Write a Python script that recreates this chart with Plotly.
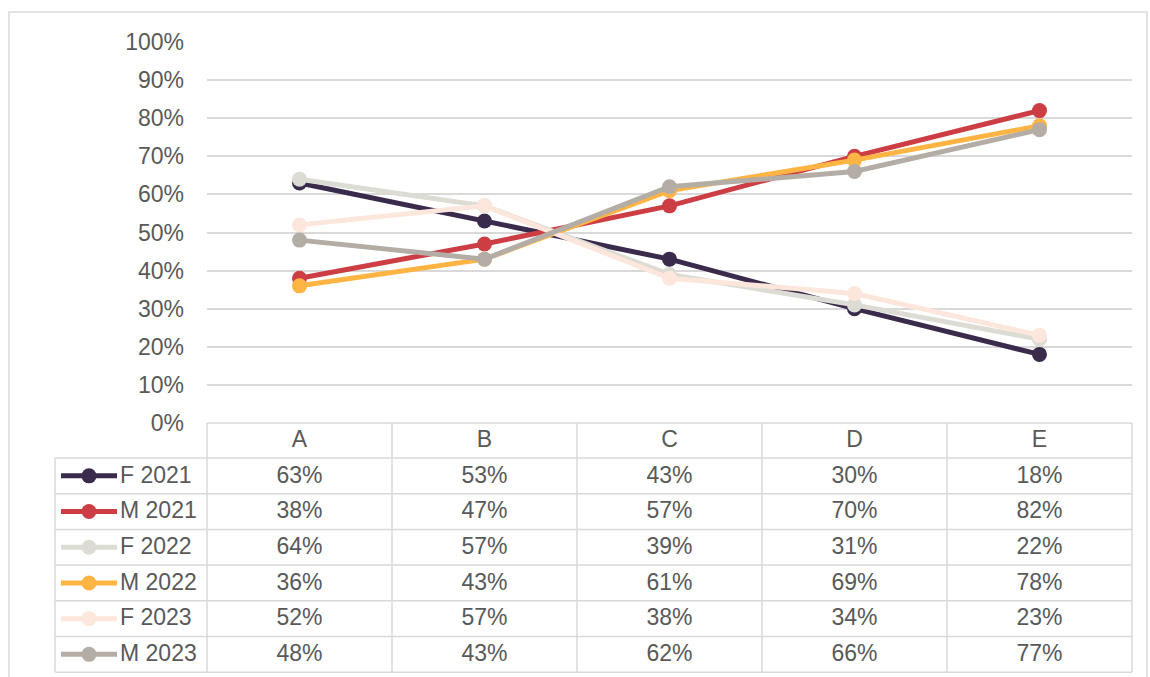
import plotly.graph_objects as go

# Data
categories = ["A", "B", "C", "D", "E"]
series_names = ["F 2021", "M 2021", "F 2022", "M 2022", "F 2023", "M 2023"]
f_2021 = [63, 53, 43, 30, 18]
m_2021 = [38, 47, 57, 70, 82]
f_2022 = [64, 57, 39, 31, 22]
m_2022 = [36, 43, 61, 69, 78]
f_2023 = [52, 57, 38, 34, 23]
m_2023 = [48, 43, 62, 66, 77]
y_ticks = [0, 10, 20, 30, 40, 50, 60, 70, 80, 90, 100]

series_values = [f_2021, m_2021, f_2022, m_2022, f_2023, m_2023]
colors = ["#3A2A4B", "#CC3D44", "#DCDCD5", "#FFB444", "#FDE6DB", "#B4ADA6"]

W, H = 1150, 677
TEXT = "#595959"
GRID = "#D9D9D9"
FONT = "Liberation Sans, Arial, sans-serif"
FS = 23

# Layout geometry (pixels)
plot_l, plot_r = 207, 1132
plot_t, plot_b = 42, 423
key_l = 55
row_h = 35.7
header_b = plot_b + 35
col_w = (plot_r - plot_l) / len(categories)

fig = go.Figure()

# Line series on the main axes
for name, vals, c in zip(series_names, series_values, colors):
    fig.add_trace(go.Scatter(
        x=categories, y=[v / 100 for v in vals], name=name,
        mode="lines+markers",
        line=dict(color=c, width=5),
        marker=dict(color=c, size=15),
        xaxis="x", yaxis="y", showlegend=False, hoverinfo="skip",
    ))

# Data table on a pixel-space overlay
shapes = []
line_style = dict(color=GRID, width=1.5)
# header row top and column separators
shapes.append(dict(type="line", xref="x2", yref="y2", x0=plot_l, x1=plot_r,
                   y0=plot_b, y1=plot_b, line=line_style))
table_b = header_b + row_h * len(series_names)
for i in range(len(categories) + 1):
    x = plot_l + i * col_w
    shapes.append(dict(type="line", xref="x2", yref="y2", x0=x, x1=x,
                       y0=plot_b, y1=table_b, line=line_style))
for j in range(len(series_names) + 1):
    y = header_b + j * row_h
    shapes.append(dict(type="line", xref="x2", yref="y2", x0=key_l, x1=plot_r,
                       y0=y, y1=y, line=line_style))
shapes.append(dict(type="line", xref="x2", yref="y2", x0=key_l, x1=key_l,
                   y0=header_b, y1=table_b, line=line_style))
# outer chart border
shapes.append(dict(type="rect", xref="x2", yref="y2", x0=9, x1=1147,
                   y0=12, y1=700, line=dict(color=GRID, width=1.5)))

# header labels
fig.add_trace(go.Scatter(
    x=[plot_l + (i + 0.5) * col_w for i in range(len(categories))],
    y=[(plot_b + header_b) / 2 + 1] * len(categories),
    text=categories, mode="text", textfont=dict(size=FS, color=TEXT, family=FONT),
    xaxis="x2", yaxis="y2", showlegend=False, hoverinfo="skip",
))

for j, (name, vals, c) in enumerate(zip(series_names, series_values, colors)):
    yc = header_b + (j + 0.5) * row_h
    # legend key: short line with a dot in the middle
    fig.add_trace(go.Scatter(
        x=[61, 117], y=[yc] * 2, mode="lines",
        line=dict(color=c, width=5),
        xaxis="x2", yaxis="y2", showlegend=False, hoverinfo="skip",
    ))
    fig.add_trace(go.Scatter(
        x=[89], y=[yc], mode="markers",
        marker=dict(color=c, size=15, opacity=1, line=dict(width=0)),
        xaxis="x2", yaxis="y2", showlegend=False, hoverinfo="skip",
    ))
    fig.add_trace(go.Scatter(
        x=[120], y=[yc + 1], text=[name], mode="text", textposition="middle right",
        textfont=dict(size=FS, color=TEXT, family=FONT),
        xaxis="x2", yaxis="y2", showlegend=False, hoverinfo="skip",
    ))
    fig.add_trace(go.Scatter(
        x=[plot_l + (i + 0.5) * col_w for i in range(len(categories))],
        y=[yc + 1] * len(categories), text=[f"{v}%" for v in vals], mode="text",
        textfont=dict(size=FS, color=TEXT, family=FONT),
        xaxis="x2", yaxis="y2", showlegend=False, hoverinfo="skip",
    ))

fig.update_layout(
    width=W, height=H,
    margin=dict(l=0, r=0, t=0, b=0, pad=0),
    paper_bgcolor="white", plot_bgcolor="rgba(0,0,0,0)",
    font=dict(family=FONT, size=FS, color=TEXT),
    shapes=shapes,
    xaxis=dict(domain=[plot_l / W, plot_r / W], range=[-0.5, len(categories) - 0.5],
               showgrid=False, showticklabels=False, zeroline=False, showline=False,
               fixedrange=True, automargin=False),
    yaxis=dict(domain=[1 - plot_b / H, 1 - plot_t / H], range=[0, 1],
               tickvals=[t / 100 for t in y_ticks],
               ticktext=[f"{t}%" for t in y_ticks],
               showgrid=True, gridcolor=GRID, gridwidth=1.5, zeroline=False,
               showline=False, ticklabelstandoff=22, automargin=False,
               tickfont=dict(size=FS, color=TEXT, family=FONT), fixedrange=True),
    xaxis2=dict(domain=[0, 1], range=[0, W], visible=False, anchor="y2",
                fixedrange=True, automargin=False),
    yaxis2=dict(domain=[0, 1], range=[H, 0], visible=False, anchor="x2",
                fixedrange=True, automargin=False),
)

fig.write_html("out.html")
